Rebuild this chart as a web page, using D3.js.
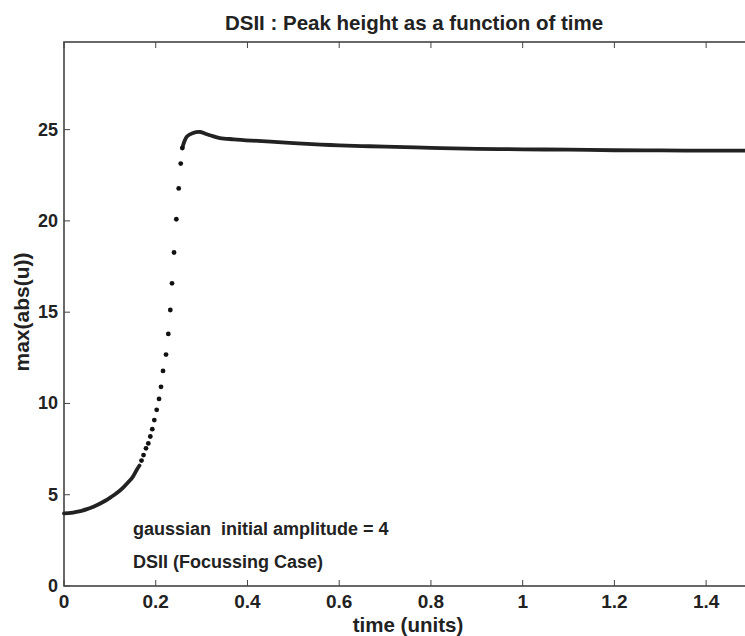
<!DOCTYPE html>
<html>
<head>
<meta charset="utf-8">
<script src="https://cdn.jsdelivr.net/npm/d3@7"></script>
<style>
  body { margin: 0; background: #fff; }
  svg { display: block; font-family: "Liberation Sans", Arial, Helvetica, sans-serif; }
</style>
</head>
<body>
<svg width="745" height="636"></svg>
<script>
const svg = d3.select("svg");

// early part: samples so dense they merge into a thick line
const earlyT = [0, 0.01, 0.02, 0.03, 0.04, 0.05, 0.06, 0.07, 0.08, 0.09, 0.10, 0.11, 0.12, 0.13, 0.14, 0.15, 0.16, 0.1646];
const earlyU = [3.98, 3.99, 4.02, 4.07, 4.13, 4.21, 4.30, 4.41, 4.53, 4.67, 4.83, 5.00, 5.19, 5.42, 5.68, 5.98, 6.42, 6.60];

// steep rise: separate dots
const riseT = [0.169, 0.1734, 0.1788, 0.1838, 0.1882, 0.1925, 0.1969, 0.2021, 0.2072, 0.2115, 0.2159, 0.2224, 0.2274, 0.2318, 0.2355, 0.2399, 0.2449, 0.2501, 0.2545, 0.258];
const riseU = [6.87, 7.17, 7.54, 7.81, 8.19, 8.59, 9.09, 9.65, 10.25, 10.91, 11.78, 12.68, 13.81, 15.12, 16.58, 18.27, 20.09, 21.78, 23.14, 23.99];

// after the peak: dense again
const lateT = [0.258, 0.262, 0.268, 0.28, 0.297, 0.31, 0.32, 0.34, 0.37, 0.41, 0.45, 0.51, 0.56, 0.60, 0.65, 0.70, 0.80, 0.90, 1.00, 1.10, 1.20, 1.30, 1.40, 1.50];
const lateU = [23.99, 24.32, 24.62, 24.80, 24.87, 24.76, 24.68, 24.54, 24.47, 24.40, 24.34, 24.25, 24.18, 24.14, 24.10, 24.07, 24.00, 23.95, 23.92, 23.90, 23.87, 23.86, 23.85, 23.85];

const xTicks = [0, 0.2, 0.4, 0.6, 0.8, 1, 1.2, 1.4];
const yTicks = [0, 5, 10, 15, 20, 25];

const mLeft = 64, mRight = 752, mTop = 42, mBottom = 586;

const x = d3.scaleLinear().domain([0, 1.5]).range([mLeft, mRight]);
const y = d3.scaleLinear().domain([0, 29.8]).range([mBottom, mTop]);

const pts = (T, U) => T.map((t, i) => [t, U[i]]);

const line = d3.line().x(d => x(d[0])).y(d => y(d[1])).curve(d3.curveMonotoneX);

// axes (MATLAB-style box, ticks pointing inward)
const frame = svg.append("g").attr("stroke", "#444").attr("fill", "none");
frame.append("rect")
    .attr("x", mLeft).attr("y", mTop)
    .attr("width", mRight - mLeft).attr("height", mBottom - mTop)
    .attr("stroke-width", 1.6);

const tickLen = 6;
xTicks.forEach(t => {
    frame.append("line").attr("x1", x(t)).attr("x2", x(t)).attr("y1", mBottom).attr("y2", mBottom - tickLen);
    frame.append("line").attr("x1", x(t)).attr("x2", x(t)).attr("y1", mTop).attr("y2", mTop + tickLen);
});
yTicks.forEach(v => {
    frame.append("line").attr("x1", mLeft).attr("x2", mLeft + tickLen).attr("y1", y(v)).attr("y2", y(v));
    frame.append("line").attr("x1", mRight).attr("x2", mRight - tickLen).attr("y1", y(v)).attr("y2", y(v));
});

const labels = svg.append("g").attr("font-weight", "bold").attr("fill", "#222");
labels.selectAll(".xt").data(xTicks).enter().append("text")
    .attr("x", d => x(d)).attr("y", mBottom + 22)
    .attr("font-size", 19)
    .attr("text-anchor", "middle")
    .text(d => d3.format("~g")(d));
labels.selectAll(".yt").data(yTicks).enter().append("text")
    .attr("x", mLeft - 6).attr("y", d => y(d) + 6)
    .attr("font-size", 18)
    .attr("text-anchor", "end")
    .text(d => d);

// data
svg.append("path")
    .datum(pts(earlyT, earlyU))
    .attr("d", line)
    .attr("fill", "none").attr("stroke", "#222").attr("stroke-width", 3.8)
    .attr("stroke-linecap", "round");
svg.append("path")
    .datum(pts(lateT, lateU))
    .attr("d", line.curve(d3.curveCatmullRom))
    .attr("fill", "none").attr("stroke", "#222").attr("stroke-width", 3.8)
    .attr("stroke-linecap", "round");
svg.append("g").selectAll("circle")
    .data(pts(riseT, riseU))
    .enter().append("circle")
    .attr("cx", d => x(d[0])).attr("cy", d => y(d[1]))
    .attr("r", 2.4).attr("fill", "#111");

// texts
svg.append("text")
    .attr("x", 414).attr("y", 30)
    .attr("text-anchor", "middle")
    .attr("font-weight", "bold").attr("font-size", 20.5).attr("fill", "#222")
    .text("DSII : Peak height as a function of time");

svg.append("text")
    .attr("x", 408).attr("y", 632)
    .attr("text-anchor", "middle")
    .attr("font-weight", "bold").attr("font-size", 20.5).attr("fill", "#222")
    .text("time (units)");

svg.append("text")
    .attr("transform", "translate(29,312) rotate(-90)")
    .attr("text-anchor", "middle")
    .attr("font-weight", "bold").attr("font-size", 21).attr("fill", "#222")
    .text("max(abs(u))");

const note = svg.append("g").attr("font-weight", "bold").attr("font-size", 18).attr("fill", "#222");
note.append("text").attr("x", 133).attr("y", 535).attr("xml:space", "preserve").text("gaussian  initial amplitude = 4");
note.append("text").attr("x", 133).attr("y", 568).text("DSII (Focussing Case)");
</script>
</body>
</html>
